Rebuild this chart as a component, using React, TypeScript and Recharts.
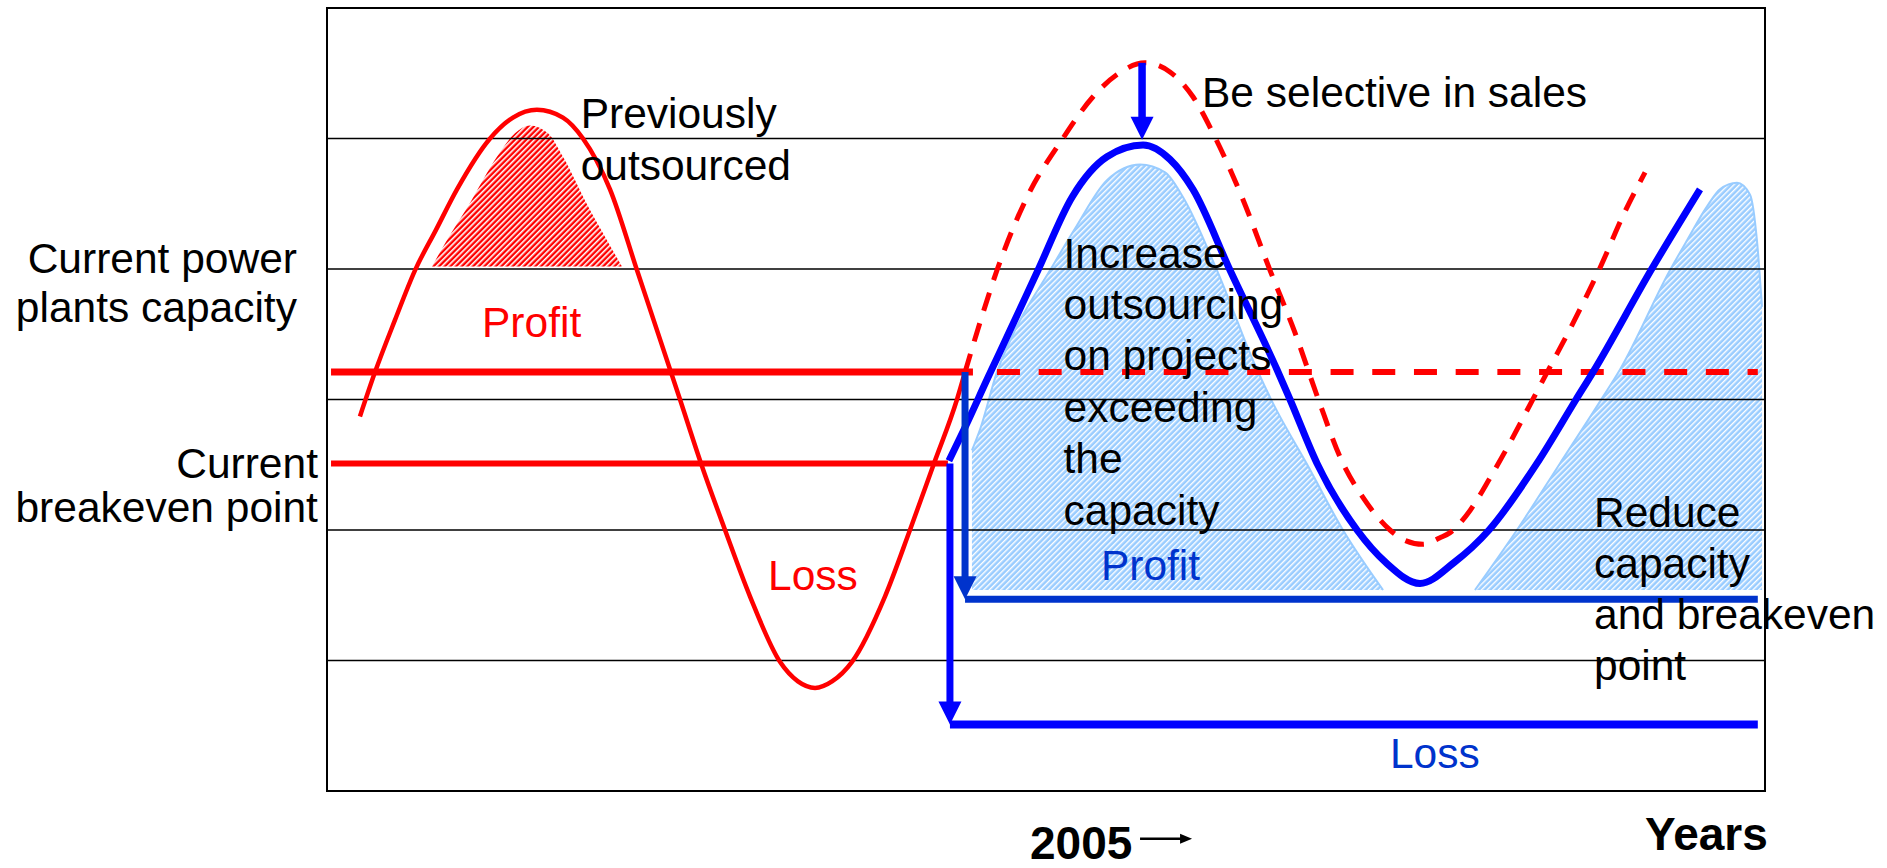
import React from "react";
import {
  ComposedChart,
  XAxis,
  YAxis,
  Line,
  Area,
  ReferenceLine,
  ReferenceDot,
  ReferenceArea,
} from "recharts";

// Time runs 0..100 across the box, level runs 0..6 bottom to top.
const gridLevels = [1, 2, 3, 4, 5];

// Current business cycle (solid red)
const currentX = [2.29, 3.34, 4.73, 6.12, 7.58, 9.04, 11.34, 12.93, 14.6, 16.41, 17.8, 19.68, 21.56, 24.55, 26.01, 27.68, 29.42, 31.5, 32.75, 33.94, 35.12, 36.51, 38.8, 40.54, 42.21, 43.81, 44.37];
const currentY = [2.87, 3.21, 3.61, 3.99, 4.3, 4.61, 5.0, 5.16, 5.22, 5.16, 5.0, 4.61, 3.99, 3.0, 2.51, 2.0, 1.49, 0.99, 0.84, 0.79, 0.84, 0.99, 1.49, 2.0, 2.51, 3.0, 3.21];

// Unadjusted demand forecast (dashed red)
const forecastX = [44.37, 45.41, 46.59, 48.68, 51.11, 53.27, 54.94, 56.88, 58.62, 60.22, 61.75, 63.63, 65.58, 67.32, 68.91, 70.65, 72.04, 73.92, 74.97, 76.22, 77.4, 78.1, 79.49, 80.88, 82.27, 83.66, 85.05, 86.58, 88.53, 90.26, 91.66];
const forecastY = [3.21, 3.59, 3.99, 4.55, 4.99, 5.32, 5.49, 5.58, 5.51, 5.32, 5.01, 4.55, 3.99, 3.51, 3.01, 2.51, 2.25, 2.0, 1.92, 1.89, 1.94, 1.98, 2.15, 2.4, 2.67, 2.96, 3.25, 3.57, 4.01, 4.44, 4.74];

// Selective-sales cycle (solid blue)
const adjustedX = [43.25, 44.3, 45.97, 47.5, 49.44, 51.81, 54.24, 56.75, 58.62, 60.22, 62.8, 66.06, 66.97, 68.85, 71.63, 73.64, 76.01, 78.37, 80.81, 84.14, 86.86, 88.04, 92.07, 95.48];
const adjustedY = [2.53, 2.77, 3.17, 3.53, 3.99, 4.55, 4.86, 4.95, 4.84, 4.61, 3.99, 3.23, 3.0, 2.51, 2.0, 1.75, 1.59, 1.75, 2.0, 2.51, 3.0, 3.21, 3.99, 4.61];

// New profit zone (light blue hatch), null splits the two humps
const profitZoneX = [44.85, 45.41, 46.59, 47.84, 50.28, 52.02, 54.24, 56.54, 58.28, 59.53, 61.89, 64.67, 65.79, 68.22, 70.65, 73.44, 76.5, 79.83, 82.75, 85.74, 88.73, 89.92, 93.39, 94.58, 95.97, 96.87, 98.05, 98.96, 99.44, 99.79];
const profitZoneY: (number | null)[] = [2.61, 2.77, 3.21, 3.53, 3.99, 4.31, 4.68, 4.8, 4.74, 4.55, 3.99, 3.23, 2.97, 2.49, 2.0, 1.54, null, 1.54, 2.0, 2.51, 3.02, 3.23, 3.99, 4.22, 4.48, 4.61, 4.66, 4.57, 4.22, 3.71];
const profitZoneBase = 1.54;

// Previously outsourced peak (red hatch)
const outsourcedX = [7.3, 8.34, 9.81, 11.82, 13.07, 14.12, 15.37, 16.41, 18.15, 19.47, 20.51];
const outsourcedY = [4.02, 4.22, 4.48, 4.86, 5.04, 5.1, 5.04, 4.86, 4.48, 4.22, 4.02];
const outsourcedBase = 4.02;

// Levels
const capacityLevel = 3.21;
const breakevenLevel = 2.51;
const newCapacityLevel = 1.47;
const newBreakevenLevel = 0.51;
const peakLevel = 5.58;
const adjustedPeakTip = 4.99;

// Time positions of line ends / arrows
const lineStart = 0.28;
const capacitySolidEnd = 44.92;
const capacityDashStart = 46.59;
const lineEnd = 99.5;
const breakevenEnd = 43.18;
const arrowCapacityX = 44.37;
const arrowBreakevenX = 43.32;
const arrowSelectiveX = 56.68;

const zip = (xs: number[], ys: (number | null)[]) => xs.map((x, i) => ({ x, y: ys[i] }));

const currentData = zip(currentX, currentY);
const forecastData = zip(forecastX, forecastY);
const adjustedData = zip(adjustedX, adjustedY);
const profitZoneData = zip(profitZoneX, profitZoneY);
const outsourcedData = zip(outsourcedX, outsourcedY);

const W = 1887;
const H = 868;
const MARGIN = { top: 8, right: 122, bottom: 77, left: 327 };
const PX_PER_LEVEL = (H - MARGIN.top - MARGIN.bottom) / 6;
const HEAD = 23;

const FONT = "'Liberation Sans', Arial, Helvetica, sans-serif";
const RED = "#FF0000";
const BLUE = "#0000FF";
const DARK_BLUE = "#0033CC";

type TextOpts = {
  anchor?: "start" | "end" | "middle";
  color?: string;
  size?: number;
  weight?: string | number;
  lh?: number;
};

const textShape = (lines: string[], o: TextOpts = {}) => (p: any) => {
  const lh = o.lh ?? 51;
  return (
    <text
      x={p.cx}
      y={p.cy}
      fill={o.color ?? "#000"}
      fontSize={o.size ?? 42.5}
      fontFamily={FONT}
      fontWeight={o.weight ?? "normal"}
      textAnchor={o.anchor ?? "start"}
    >
      {lines.map((l, i) => (
        <tspan key={i} x={p.cx} dy={i === 0 ? 0 : lh}>
          {l}
        </tspan>
      ))}
    </text>
  );
};

const yearShape = (p: any) => (
  <g>
    <text x={p.cx} y={p.cy} fill="#000" fontSize={46} fontFamily={FONT} fontWeight="bold">
      2005
    </text>
    <line x1={p.cx + 110} y1={p.cy - 20} x2={p.cx + 152} y2={p.cy - 20} stroke="#000" strokeWidth={2.5} />
    <polygon
      points={`${p.cx + 150},${p.cy - 25} ${p.cx + 162},${p.cy - 20} ${p.cx + 150},${p.cy - 15}`}
      fill="#000"
    />
  </g>
);

const headShape = (color: string) => (p: any) => (
  <polygon
    points={`${p.cx - HEAD / 2},${p.cy - HEAD} ${p.cx + HEAD / 2},${p.cy - HEAD} ${p.cx},${p.cy}`}
    fill={color}
  />
);

const shaftEnd = (tip: number) => tip + (HEAD - 2) / PX_PER_LEVEL;

export default function App() {
  return (
    <div style={{ position: "absolute", left: 0, top: 0, width: W, height: H, background: "#fff" }}>
      <ComposedChart width={W} height={H} margin={MARGIN}>
        <defs>
          <pattern id="blueHatch" patternUnits="userSpaceOnUse" width="4" height="4" patternTransform="rotate(45)">
            <rect width="4" height="4" fill="#99CCFF" />
            <rect width="1.4" height="4" fill="#FFFFFF" />
          </pattern>
          <pattern id="redHatch" patternUnits="userSpaceOnUse" width="4" height="4" patternTransform="rotate(45)">
            <rect width="4" height="4" fill="#FF0000" />
            <rect width="1.6" height="4" fill="#FFFFFF" />
          </pattern>
        </defs>
        <XAxis type="number" dataKey="x" domain={[0, 100]} hide allowDataOverflow />
        <YAxis type="number" domain={[0, 6]} hide allowDataOverflow tickCount={7} />

        <Area
          data={outsourcedData}
          dataKey="y"
          type="monotone"
          baseValue={outsourcedBase}
          stroke="none"
          fill="url(#redHatch)"
          fillOpacity={1}
          isAnimationActive={false}
          dot={false}
          activeDot={false}
        />
        <Area
          data={profitZoneData}
          dataKey="y"
          type="monotone"
          baseValue={profitZoneBase}
          stroke="#99CCFF"
          strokeWidth={2}
          fill="url(#blueHatch)"
          fillOpacity={1}
          isAnimationActive={false}
          dot={false}
          activeDot={false}
        />

        {gridLevels.map((g) => (
          <ReferenceLine key={g} y={g} stroke="#000" strokeWidth={1.5} />
        ))}
        <ReferenceArea x1={0} x2={100} y1={0} y2={6} fill="none" fillOpacity={0} stroke="#000" strokeWidth={2} ifOverflow="visible" />

        <ReferenceLine
          segment={[{ x: lineStart, y: capacityLevel }, { x: capacitySolidEnd, y: capacityLevel }]}
          stroke={RED}
          strokeWidth={7}
        />
        <ReferenceLine
          segment={[{ x: capacityDashStart, y: capacityLevel }, { x: lineEnd, y: capacityLevel }]}
          stroke={RED}
          strokeWidth={6}
          strokeDasharray="23 18.7"
        />
        <ReferenceLine
          segment={[{ x: lineStart, y: breakevenLevel }, { x: breakevenEnd, y: breakevenLevel }]}
          stroke={RED}
          strokeWidth={6}
        />

        <Line
          data={currentData}
          dataKey="y"
          type="monotone"
          stroke={RED}
          strokeWidth={4.5}
          dot={false}
          activeDot={false}
          isAnimationActive={false}
        />
        <Line
          data={forecastData}
          dataKey="y"
          type="monotone"
          stroke={RED}
          strokeWidth={5}
          strokeDasharray="19 13"
          dot={false}
          activeDot={false}
          isAnimationActive={false}
        />
        <Line
          data={adjustedData}
          dataKey="y"
          type="monotone"
          stroke={BLUE}
          strokeWidth={7}
          dot={false}
          activeDot={false}
          isAnimationActive={false}
        />

        <ReferenceLine
          segment={[{ x: arrowCapacityX, y: newCapacityLevel }, { x: lineEnd, y: newCapacityLevel }]}
          stroke={DARK_BLUE}
          strokeWidth={7}
        />
        <ReferenceLine
          segment={[{ x: arrowBreakevenX, y: newBreakevenLevel }, { x: lineEnd, y: newBreakevenLevel }]}
          stroke={BLUE}
          strokeWidth={8}
        />
        <ReferenceLine
          segment={[{ x: arrowCapacityX, y: capacityLevel }, { x: arrowCapacityX, y: shaftEnd(newCapacityLevel) }]}
          stroke={DARK_BLUE}
          strokeWidth={7}
        />
        <ReferenceDot x={arrowCapacityX} y={newCapacityLevel} r={0} shape={headShape(DARK_BLUE)} ifOverflow="visible" />
        <ReferenceLine
          segment={[{ x: arrowBreakevenX, y: breakevenLevel }, { x: arrowBreakevenX, y: shaftEnd(newBreakevenLevel) }]}
          stroke={BLUE}
          strokeWidth={7}
        />
        <ReferenceDot x={arrowBreakevenX} y={newBreakevenLevel} r={0} shape={headShape(BLUE)} ifOverflow="visible" />
        <ReferenceLine
          segment={[{ x: arrowSelectiveX, y: peakLevel }, { x: arrowSelectiveX, y: shaftEnd(adjustedPeakTip) }]}
          stroke={BLUE}
          strokeWidth={7.5}
        />
        <ReferenceDot x={arrowSelectiveX} y={adjustedPeakTip} r={0} shape={headShape(BLUE)} ifOverflow="visible" />

        <ReferenceDot x={-2.09} y={3.97} r={0} ifOverflow="visible" shape={textShape(["Current power", "plants capacity"], { anchor: "end", lh: 49 })} />
        <ReferenceDot x={-0.63} y={2.4} r={0} ifOverflow="visible" shape={textShape(["Current", "breakeven point"], { anchor: "end", lh: 44.5 })} />
        <ReferenceDot x={17.64} y={5.08} r={0} ifOverflow="visible" shape={textShape(["Previously", "outsourced"], { lh: 52 })} />
        <ReferenceDot x={10.78} y={3.48} r={0} ifOverflow="visible" shape={textShape(["Profit"], { color: RED })} />
        <ReferenceDot x={30.67} y={1.54} r={0} ifOverflow="visible" shape={textShape(["Loss"], { color: RED })} />
        <ReferenceDot x={60.85} y={5.24} r={0} ifOverflow="visible" shape={textShape(["Be selective in sales"])} />
        <ReferenceDot
          x={51.22}
          y={4.01}
          r={0}
          ifOverflow="visible"
          shape={textShape(["Increase", "outsourcing", "on projects", "exceeding", "the", "capacity"], { lh: 51.4 })}
        />
        <ReferenceDot x={53.82} y={1.62} r={0} ifOverflow="visible" shape={textShape(["Profit"], { color: DARK_BLUE })} />
        <ReferenceDot x={73.92} y={0.18} r={0} ifOverflow="visible" shape={textShape(["Loss"], { color: DARK_BLUE })} />
        <ReferenceDot
          x={88.11}
          y={2.02}
          r={0}
          ifOverflow="visible"
          shape={textShape(["Reduce", "capacity", "and breakeven", "point"], { lh: 51 })}
        />
        <ReferenceDot x={48.89} y={-0.52} r={0} ifOverflow="visible" shape={yearShape} />
        <ReferenceDot x={91.66} y={-0.45} r={0} ifOverflow="visible" shape={textShape(["Years"], { size: 46, weight: "bold" })} />
      </ComposedChart>
    </div>
  );
}
